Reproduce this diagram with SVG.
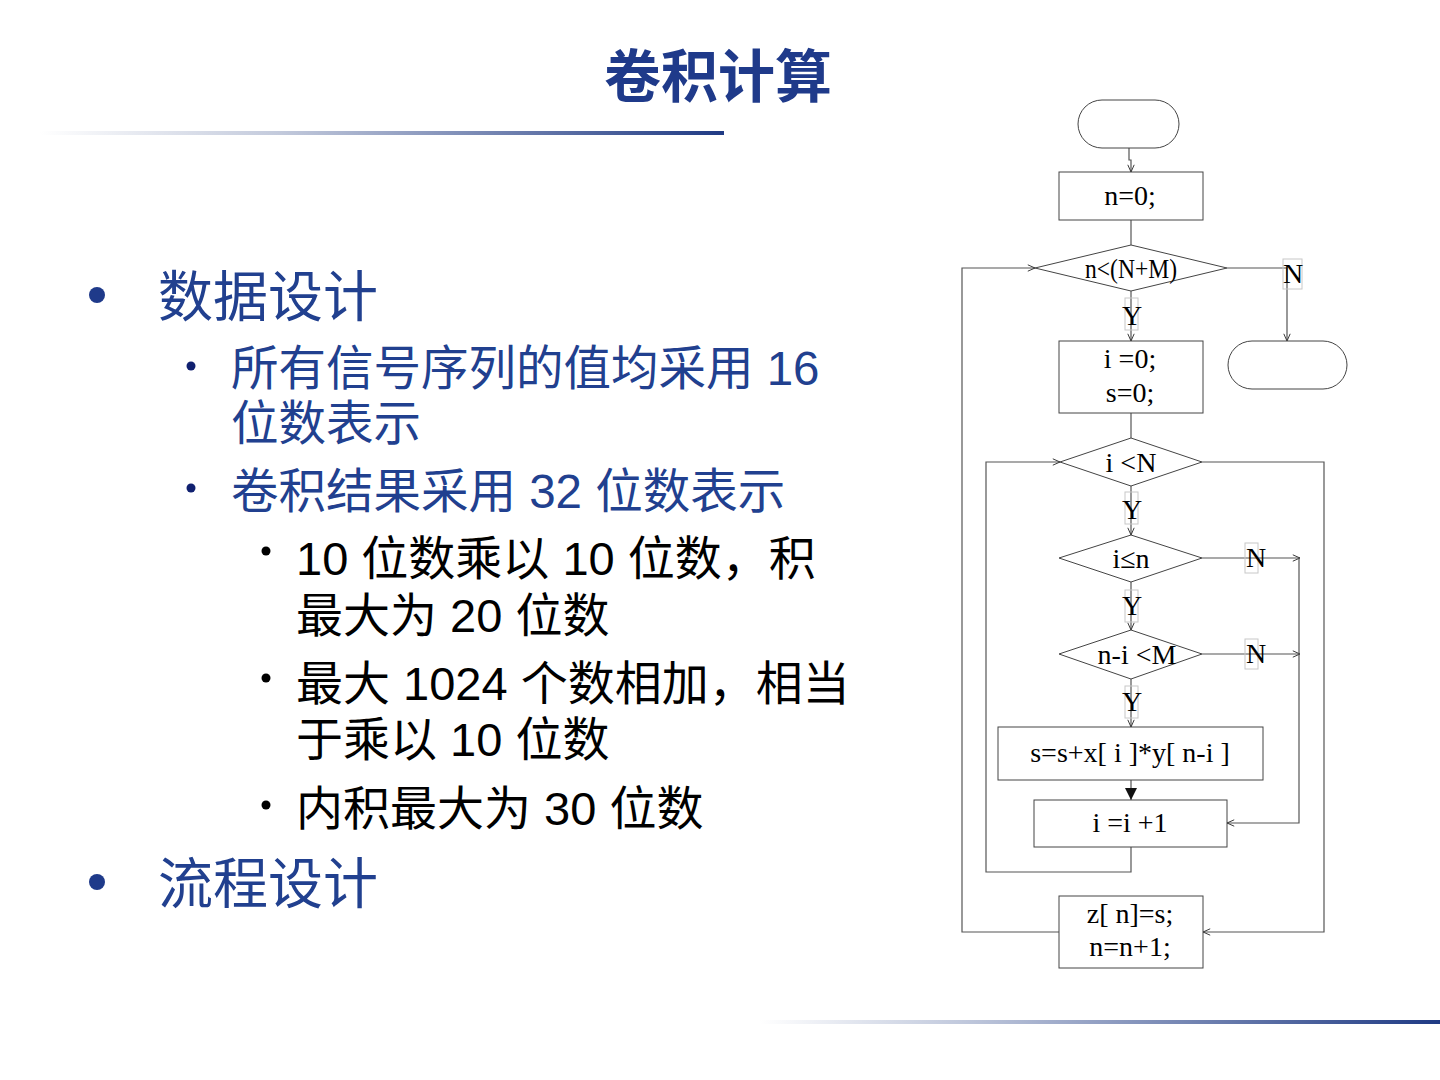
<svg xmlns="http://www.w3.org/2000/svg" width="1440" height="1080" viewBox="0 0 1440 1080">
<defs>
<linearGradient id="gTop" x1="0" y1="0" x2="1" y2="0">
<stop offset="0" stop-color="#ffffff"/>
<stop offset="0.35" stop-color="#c3cadc"/>
<stop offset="1" stop-color="#1f3a84"/>
</linearGradient>
<linearGradient id="gBot" x1="0" y1="0" x2="1" y2="0">
<stop offset="0" stop-color="#ffffff"/>
<stop offset="0.3" stop-color="#c0c8dc"/>
<stop offset="1" stop-color="#1f3a84"/>
</linearGradient>
<marker id="open" viewBox="0 0 10 10" refX="10" refY="5" markerWidth="8" markerHeight="8" orient="auto" markerUnits="userSpaceOnUse">
<path d="M1,1 L10,5 L1,9" fill="none" stroke="#333" stroke-width="1.2"/>
</marker>
<marker id="filled" viewBox="0 0 10 10" refX="10" refY="5" markerWidth="12" markerHeight="12" orient="auto" markerUnits="userSpaceOnUse">
<path d="M0,0 L10,5 L0,10 z" fill="#111"/>
</marker>
</defs>
<style>
.title{font-family:"Noto Sans CJK SC","Noto Sans",sans-serif;font-weight:bold;font-size:57px;fill:#1f3a8a}
.l1{font-family:"Liberation Sans","Noto Sans CJK SC",sans-serif;font-size:55px;fill:#21408f}
.l2{font-family:"Liberation Sans","Noto Sans CJK SC",sans-serif;font-size:47.5px;fill:#21408f}
.l3{font-family:"Liberation Sans","Noto Sans CJK SC",sans-serif;font-size:47px;fill:#000}
.fc{font-family:"Liberation Serif","DejaVu Serif",serif;font-size:28px;fill:#000;text-anchor:middle}
.lab{font-family:"Liberation Serif","DejaVu Serif",serif;font-size:28px;fill:#000;text-anchor:middle}
.shape{fill:#fff;stroke:#444;stroke-width:1}
.conn{fill:none;stroke:#555;stroke-width:1.2}
.lbox{fill:none;stroke:#c8c8c8;stroke-width:1}
</style>
<rect width="1440" height="1080" fill="#fff"/>

<text class="title" x="718" y="97" text-anchor="middle">卷积计算</text>
<rect x="40" y="131" width="684" height="4" fill="url(#gTop)"/>
<rect x="760" y="1020" width="680" height="4" fill="url(#gBot)"/>

<g id="bullets">
<circle cx="97" cy="295" r="8" fill="#1f3a8a"/>
<text class="l1" x="158" y="316">数据设计</text>
<circle cx="191" cy="366" r="4.5" fill="#102070"/>
<text class="l2" x="231" y="385">所有信号序列的值均采用 16</text>
<text class="l2" x="231" y="440">位数表示</text>
<circle cx="191" cy="488" r="4.5" fill="#102070"/>
<text class="l2" x="231" y="508">卷积结果采用 32 位数表示</text>
<circle cx="266" cy="551" r="4.5" fill="#000"/>
<text class="l3" x="296" y="575">10 位数乘以 10 位数，积</text>
<text class="l3" x="296" y="632">最大为 20 位数</text>
<circle cx="266" cy="678" r="4.5" fill="#000"/>
<text class="l3" x="296" y="700">最大 1024 个数相加，相当</text>
<text class="l3" x="296" y="756">于乘以 10 位数</text>
<circle cx="266" cy="805" r="4.5" fill="#000"/>
<text class="l3" x="296" y="825">内积最大为 30 位数</text>
<circle cx="97" cy="882" r="8" fill="#1f3a8a"/>
<text class="l1" x="158" y="903">流程设计</text>
</g>

<g id="connectors">
<path class="conn" d="M1129,148 V160 H1131 V172" marker-end="url(#open)"/>
<path class="conn" d="M1131,220 V245"/>
<path class="conn" d="M1131,291 V341" marker-end="url(#open)"/>
<path class="conn" d="M1227,268 H1287 V341" marker-end="url(#open)"/>
<path class="conn" d="M1131,413 V438"/>
<path class="conn" d="M1131,486 V535" marker-end="url(#open)"/>
<path class="conn" d="M1131,582 V630" marker-end="url(#open)"/>
<path class="conn" d="M1131,679 V727" marker-end="url(#open)"/>
<path class="conn" d="M1131,780 V800" marker-end="url(#filled)"/>
<path class="conn" d="M1202,558 H1300"  marker-end="url(#open)"/>
<path class="conn" d="M1202,654 H1300"  marker-end="url(#open)"/>
<path class="conn" d="M1299,558 V823 H1227" marker-end="url(#open)"/>
<path class="conn" d="M1131,847 V872 H986 V462 H1060" marker-end="url(#open)"/>
<path class="conn" d="M1202,462 H1324 V932 H1203" marker-end="url(#open)"/>
<path class="conn" d="M1059,932 H962 V268 H1035" marker-end="url(#open)"/>
</g>

<g id="start"><rect class="shape" x="1078" y="100" width="101" height="48" rx="24"/></g>
<g id="init-n"><rect class="shape" x="1059" y="172" width="144" height="48"/><text class="fc" x="1130" y="205">n=0;</text></g>
<g id="cond-n"><polygon class="shape" points="1131,245 1227,268 1131,291 1035,268"/><text class="fc" x="1131" y="278" textLength="92" lengthAdjust="spacingAndGlyphs">n&lt;(N+M)</text></g>
<g id="end"><rect class="shape" x="1228" y="341" width="119" height="48" rx="24"/></g>
<g id="init-is"><rect class="shape" x="1059" y="341" width="144" height="72"/><text class="fc" x="1130" y="368">i =0;</text><text class="fc" x="1130" y="402">s=0;</text></g>
<g id="cond-i"><polygon class="shape" points="1131,438 1202,462 1131,486 1060,462"/><text class="fc" x="1131" y="472">i &lt;N</text></g>
<g id="cond-le"><polygon class="shape" points="1131,535 1202,558 1131,582 1059,558"/><text class="fc" x="1131" y="568">i≤n</text></g>
<g id="cond-m"><polygon class="shape" points="1131,630 1202,654 1131,679 1059,654"/><text class="fc" x="1137" y="664">n-i &lt;M</text></g>
<g id="accum"><rect class="shape" x="998" y="727" width="265" height="53"/><text class="fc" x="1130" y="762">s=s+x[ i ]*y[ n-i ]</text></g>
<g id="inc-i"><rect class="shape" x="1034" y="800" width="193" height="47"/><text class="fc" x="1130" y="832">i =i +1</text></g>
<g id="store"><rect class="shape" x="1059" y="896" width="144" height="72"/><text class="fc" x="1130" y="923">z[ n]=s;</text><text class="fc" x="1130" y="956">n=n+1;</text></g>

<g id="labels">
<rect class="lbox" x="1283" y="259" width="19" height="30"/><text class="lab" x="1293" y="283">N</text>
<rect class="lbox" x="1125" y="298" width="13" height="32"/><text class="lab" x="1132" y="325">Y</text>
<rect class="lbox" x="1125" y="492" width="13" height="32"/><text class="lab" x="1132" y="519">Y</text>
<rect class="lbox" x="1245" y="543" width="13" height="30"/><text class="lab" x="1256" y="567">N</text>
<rect class="lbox" x="1125" y="590" width="13" height="32"/><text class="lab" x="1132" y="615">Y</text>
<rect class="lbox" x="1245" y="639" width="13" height="30"/><text class="lab" x="1256" y="663">N</text>
<rect class="lbox" x="1125" y="686" width="13" height="32"/><text class="lab" x="1132" y="711">Y</text>
</g>
</svg>
